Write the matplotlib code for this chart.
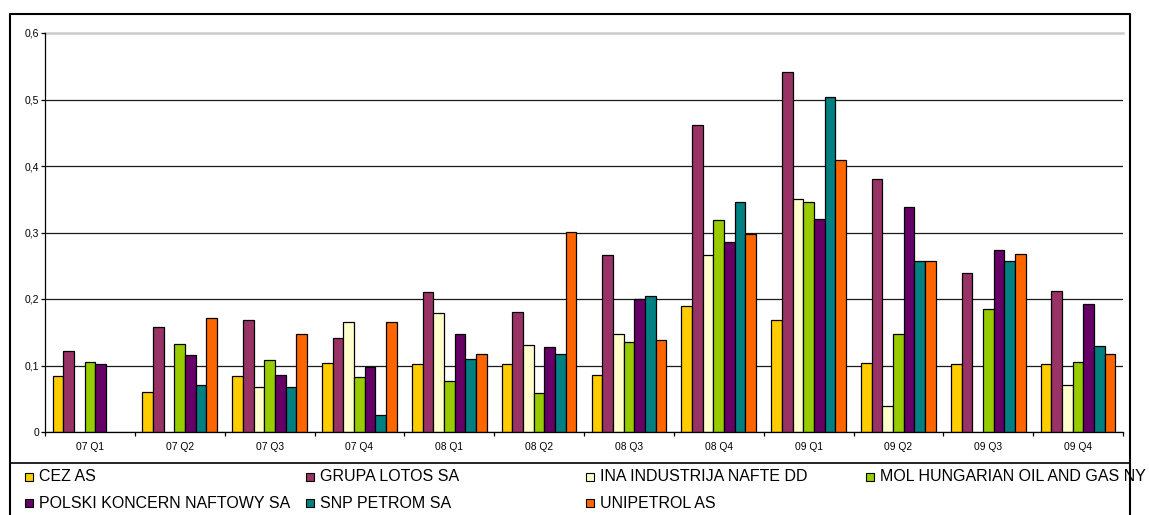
import numpy as np
import matplotlib
matplotlib.use('Agg')
import matplotlib.pyplot as plt
from matplotlib.patches import Rectangle
from matplotlib.lines import Line2D

plt.rcParams['font.family'] = ['Liberation Sans', 'DejaVu Sans']

quarters = ["07 Q1", "07 Q2", "07 Q3", "07 Q4", "08 Q1", "08 Q2",
            "08 Q3", "08 Q4", "09 Q1", "09 Q2", "09 Q3", "09 Q4"]

companies = ["CEZ AS", "GRUPA LOTOS SA", "INA INDUSTRIJA NAFTE DD",
             "MOL HUNGARIAN OIL AND GAS NY", "POLSKI KONCERN NAFTOWY SA",
             "SNP PETROM SA", "UNIPETROL AS"]
colors = ["#FFCC00", "#993366", "#FFFFCC", "#99CC00", "#660066", "#008080", "#FF6600"]

nan = np.nan
cez    = [0.084, 0.060, 0.084, 0.104, 0.102, 0.102, 0.085, 0.189, 0.168, 0.104, 0.102, 0.102]
lotos  = [0.122, 0.158, 0.168, 0.141, 0.210, 0.181, 0.266, 0.461, 0.541, 0.380, 0.239, 0.212]
ina    = [nan,   nan,   0.067, 0.165, 0.179, 0.131, 0.147, 0.266, 0.350, 0.039, nan,   0.071]
mol    = [0.106, 0.133, 0.108, 0.082, 0.077, 0.058, 0.135, 0.319, 0.346, 0.147, 0.185, 0.106]
pkn    = [0.102, 0.116, 0.085, 0.098, 0.147, 0.128, 0.200, 0.286, 0.321, 0.339, 0.274, 0.192]
snp    = [nan,   0.071, 0.067, 0.026, 0.110, 0.118, 0.204, 0.346, 0.504, 0.257, 0.257, 0.129]
uni    = [nan,   0.171, 0.148, 0.166, 0.118, 0.301, 0.139, 0.297, 0.409, 0.257, 0.268, 0.118]
series = [cez, lotos, ina, mol, pkn, snp, uni]

yticks = [0, 0.1, 0.2, 0.3, 0.4, 0.5, 0.6]
ytick_labels = ["0", "0,1", "0,2", "0,3", "0,4", "0,5", "0,6"]

W, H = 1149, 515
fig = plt.figure(figsize=(W / 100, H / 100), dpi=100)
fig.patch.set_facecolor('white')

def fx(px):
    return px / W

def fy(py):
    return 1 - py / H

ax = fig.add_axes([fx(45), fy(432), fx(1123) - fx(45), fy(33) - fy(432)])

n = len(series)
bw = 0.119
x = np.arange(len(quarters)) + 0.5
for j, (vals, col) in enumerate(zip(series, colors)):
    ax.bar(x + (j - (n - 1) / 2) * bw, vals, width=bw, color=col,
           edgecolor='black', linewidth=0.9, zorder=3)

ax.set_xlim(0, len(quarters))
ax.set_ylim(0, 0.6)

ax.set_yticks(yticks)
ax.set_yticklabels(ytick_labels)
ax.tick_params(axis='y', direction='out', length=3, width=0.9, labelsize=7.5, pad=1)

ax.set_xticks(np.arange(len(quarters) + 1))
ax.set_xticklabels([])
ax.set_xticks(x, minor=True)
ax.set_xticklabels(quarters, minor=True)
ax.tick_params(axis='x', which='major', direction='out', length=3, width=0.9)
ax.tick_params(axis='x', which='minor', length=0, labelsize=7.4, pad=7)

for s in ['top', 'right']:
    ax.spines[s].set_visible(False)
for s in ['left', 'bottom']:
    ax.spines[s].set_color('black')
    ax.spines[s].set_linewidth(0.9)
    ax.spines[s].set_zorder(4)

ax.set_axisbelow(True)
ax.yaxis.grid(True, color='#1a1a1a', linewidth=0.9)
glines = ax.get_ygridlines()
glines[-1].set_color('#cccccc')
glines[-1].set_linewidth(1.8)
glines[-1].set_clip_on(False)

# outer frame and separator
fig.add_artist(Line2D([fx(10), fx(10), fx(1130), fx(1130)],
                      [fy(520), fy(14), fy(14), fy(520)],
                      color='black', linewidth=1.5))
fig.add_artist(Line2D([fx(10), fx(1130)], [fy(463), fy(463)],
                      color='black', linewidth=1.2))

# legend, row-major
col_x = [25, 306, 586, 866]
row_y = [476.5, 503]
for k, (name, col) in enumerate(zip(companies, colors)):
    r, c = divmod(k, 4)
    px, py = col_x[c], row_y[r]
    fig.add_artist(Rectangle((fx(px), fy(py + 4)), fx(8), 8 / H,
                             facecolor=col, edgecolor='black', linewidth=0.8))
    fig.text(fx(px + 14), fy(py), name, fontsize=11.5, va='center', ha='left',
             color='black')

fig.savefig('out.png', dpi=100, facecolor='white')
